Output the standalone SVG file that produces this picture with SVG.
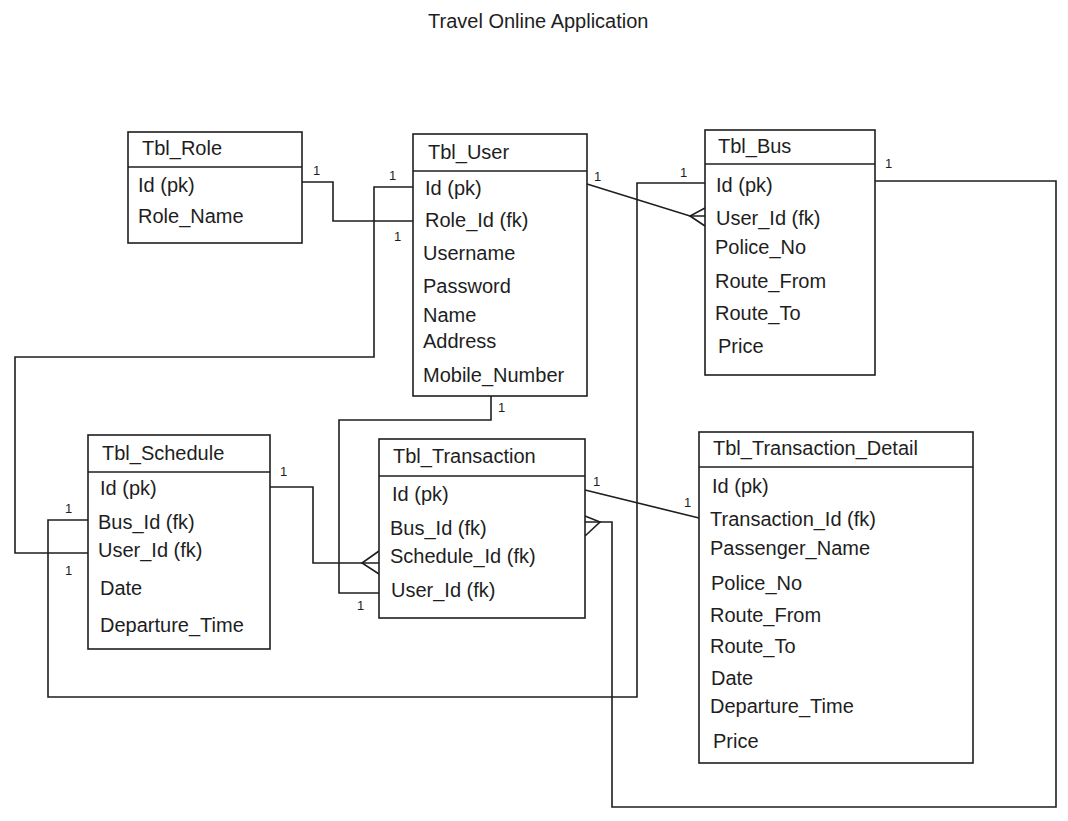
<svg xmlns="http://www.w3.org/2000/svg" width="1068" height="821" viewBox="0 0 1068 821">
<style>
.box{fill:#ffffff;stroke:#1e1e1e;stroke-width:1.6}
.div{stroke:#1e1e1e;stroke-width:1.6}
.t{font-family:"Liberation Sans",Arial,sans-serif;font-size:20px;fill:#1e1e1e}
.c{fill:none;stroke:#1e1e1e;stroke-width:1.6;stroke-linejoin:miter}
.l{font-family:"Liberation Sans",Arial,sans-serif;font-size:13px;fill:#1e1e1e}
</style>
<rect width="1068" height="821" fill="#ffffff"/>
<text class="t" x="428" y="28">Travel Online Application</text>

<g id="connectors">
  <!-- Role - User -->
  <polyline class="c" points="302,182 333,182 333,221 413,221"/>
  <!-- User Id - Schedule User_Id -->
  <polyline class="c" points="413,187 374,187 374,357 15,357 15,553 88,553"/>
  <!-- User - Bus User_Id -->
  <polyline class="c" points="587,184 690,216 705,216"/>
  <polyline class="c" points="705,208 690,216 705,226"/>
  <!-- Bus Id - Schedule Bus_Id -->
  <polyline class="c" points="705,183 637,183 637,697 48,697 48,520 88,520"/>
  <!-- Bus - Transaction Bus_Id -->
  <polyline class="c" points="875,181 1056,181 1056,807 612,807 612,522 585,522"/>
  <polyline class="c" points="585,516 600,522 585,536"/>
  <!-- Schedule - Transaction Schedule_Id -->
  <polyline class="c" points="270,487 313,487 313,563 379,563"/>
  <polyline class="c" points="379,551 362,563 379,574"/>
  <!-- User - Transaction User_Id -->
  <polyline class="c" points="491,396 491,420 339,420 339,593 379,593"/>
  <!-- Transaction - Detail -->
  <polyline class="c" points="585,490 699,518"/>
  <text class="l" x="313" y="175">1</text>
  <text class="l" x="389" y="180">1</text>
  <text class="l" x="394" y="241">1</text>
  <text class="l" x="594" y="181">1</text>
  <text class="l" x="680" y="177">1</text>
  <text class="l" x="885" y="168">1</text>
  <text class="l" x="498" y="412">1</text>
  <text class="l" x="280" y="476">1</text>
  <text class="l" x="65" y="513">1</text>
  <text class="l" x="65" y="575">1</text>
  <text class="l" x="357" y="610">1</text>
  <text class="l" x="593" y="486">1</text>
  <text class="l" x="684" y="507">1</text>
</g>

<g id="tbl_role">
  <rect class="box" x="128" y="132" width="174" height="111"/>
  <line class="div" x1="128" y1="167" x2="302" y2="167"/>
  <text class="t" x="142" y="155">Tbl_Role</text>
  <text class="t" x="138" y="192">Id (pk)</text>
  <text class="t" x="138" y="223">Role_Name</text>
</g>

<g id="tbl_user">
  <rect class="box" x="413" y="134" width="174" height="262"/>
  <line class="div" x1="413" y1="171" x2="587" y2="171"/>
  <text class="t" x="428" y="159">Tbl_User</text>
  <text class="t" x="425" y="195">Id (pk)</text>
  <text class="t" x="425" y="227">Role_Id (fk)</text>
  <text class="t" x="423" y="260">Username</text>
  <text class="t" x="423" y="293">Password</text>
  <text class="t" x="423" y="322">Name</text>
  <text class="t" x="423" y="348">Address</text>
  <text class="t" x="423" y="382">Mobile_Number</text>
</g>

<g id="tbl_bus">
  <rect class="box" x="705" y="130" width="170" height="245"/>
  <line class="div" x1="705" y1="164" x2="875" y2="164"/>
  <text class="t" x="718" y="153">Tbl_Bus</text>
  <text class="t" x="716" y="192">Id (pk)</text>
  <text class="t" x="716" y="225">User_Id (fk)</text>
  <text class="t" x="715" y="254">Police_No</text>
  <text class="t" x="715" y="288">Route_From</text>
  <text class="t" x="715" y="320">Route_To</text>
  <text class="t" x="718" y="353">Price</text>
</g>

<g id="tbl_schedule">
  <rect class="box" x="88" y="435" width="182" height="214"/>
  <line class="div" x1="88" y1="472" x2="270" y2="472"/>
  <text class="t" x="102" y="460">Tbl_Schedule</text>
  <text class="t" x="100" y="495">Id (pk)</text>
  <text class="t" x="98" y="529">Bus_Id (fk)</text>
  <text class="t" x="98" y="557">User_Id (fk)</text>
  <text class="t" x="100" y="595">Date</text>
  <text class="t" x="100" y="632">Departure_Time</text>
</g>

<g id="tbl_transaction">
  <rect class="box" x="379" y="439" width="206" height="179"/>
  <line class="div" x1="379" y1="476" x2="585" y2="476"/>
  <text class="t" x="393" y="463">Tbl_Transaction</text>
  <text class="t" x="392" y="501">Id (pk)</text>
  <text class="t" x="390" y="535">Bus_Id (fk)</text>
  <text class="t" x="390" y="563">Schedule_Id (fk)</text>
  <text class="t" x="391" y="597">User_Id (fk)</text>
</g>

<g id="tbl_transaction_detail">
  <rect class="box" x="699" y="432" width="274" height="331"/>
  <line class="div" x1="699" y1="467" x2="973" y2="467"/>
  <text class="t" x="713" y="455">Tbl_Transaction_Detail</text>
  <text class="t" x="712" y="493">Id (pk)</text>
  <text class="t" x="710" y="526">Transaction_Id (fk)</text>
  <text class="t" x="710" y="555">Passenger_Name</text>
  <text class="t" x="711" y="590">Police_No</text>
  <text class="t" x="710" y="622">Route_From</text>
  <text class="t" x="710" y="653">Route_To</text>
  <text class="t" x="711" y="685">Date</text>
  <text class="t" x="710" y="713">Departure_Time</text>
  <text class="t" x="713" y="748">Price</text>
</g>
</svg>
